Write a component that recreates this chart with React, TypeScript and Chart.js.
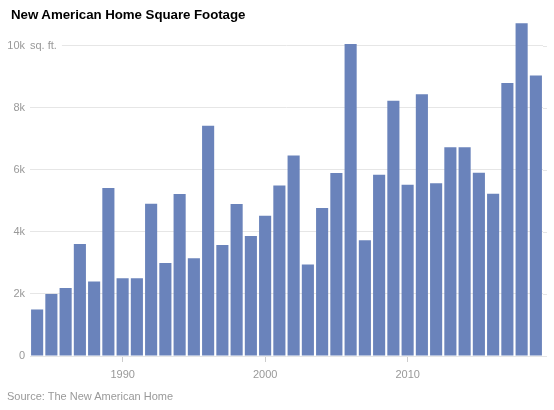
import React, { useEffect, useRef } from 'react';
import { Chart, registerables } from 'chart.js';

Chart.register(...registerables);

const years: string[] = [
    '1984', '1985', '1986', '1987', '1988', '1989', '1990', '1991', '1992', '1993',
    '1994', '1995', '1996', '1997', '1998', '1999', '2000', '2001', '2002', '2003',
    '2004', '2005', '2006', '2007', '2008', '2009', '2010', '2011', '2012', '2013',
    '2014', '2015', '2016', '2017', '2018', '2019',
];

const squareFeet: number[] = [
    1500, 2000, 2190, 3610, 2400, 5420, 2510, 2510, 4910, 3000,
    5220, 3150, 7420, 3580, 4900, 3870, 4520, 5500, 6460, 2950,
    4770, 5900, 10060, 3730, 5840, 8230, 5520, 8440, 5570, 6730,
    6730, 5910, 5230, 8800, 10730, 9040,
];

const yTickValues: number[] = [0, 2000, 4000, 6000, 8000, 10000];
const yTickLabels: string[] = ['0', '2k', '4k', '6k', '8k', '10k'];
const yUnit = 'sq. ft.';

const BAR = '#6a83bb';
const GREY = '#999999';
const GRID = '#e6e6e6';
const FONT = '"Liberation Sans", Arial, sans-serif';

// writes the unit after the top tick label, hiding the grid line under it,
// and lets the grid lines run a few pixels past the last bar
const unitLabel = {
    id: 'unitLabel',
    beforeDatasetsDraw(chart: Chart) {
        const { ctx, chartArea } = chart;
        const y = chart.scales.y;
        ctx.save();
        ctx.strokeStyle = GRID;
        ctx.lineWidth = 1;
        yTickValues.forEach((v) => {
            const py = Math.round(y.getPixelForValue(v)) + 0.5;
            ctx.beginPath();
            ctx.moveTo(chartArea.right, py);
            ctx.lineTo(chartArea.right + 4, py);
            ctx.stroke();
        });
        ctx.restore();
    },
    afterDraw(chart: Chart) {
        const y = chart.scales.y;
        const py = y.getPixelForValue(yTickValues[yTickValues.length - 1]);
        const ctx = chart.ctx;
        ctx.save();
        ctx.font = '11px ' + FONT;
        const w = ctx.measureText(yUnit).width;
        ctx.fillStyle = '#ffffff';
        ctx.fillRect(chart.chartArea.left - 1, py - 3, w + 6, 6);
        ctx.fillStyle = GREY;
        ctx.textAlign = 'left';
        ctx.textBaseline = 'middle';
        ctx.fillText(yUnit, chart.chartArea.left, py);
        ctx.restore();
    },
};

const App: React.FC = () => {
    const canvasRef = useRef<HTMLCanvasElement | null>(null);
    const chartRef = useRef<Chart | null>(null);

    useEffect(() => {
        document.body.style.margin = '0';
        const canvas = canvasRef.current;
        if (!canvas) return;
        const existing = Chart.getChart(canvas);
        if (existing) existing.destroy();

        chartRef.current = new Chart(canvas, {
            type: 'bar',
            data: {
                labels: years,
                datasets: [
                    {
                        data: squareFeet,
                        backgroundColor: BAR,
                        borderWidth: 0,
                        barPercentage: 0.85,
                        categoryPercentage: 1,
                    },
                ],
            },
            options: {
                animation: false,
                responsive: false,
                maintainAspectRatio: false,
                layout: { padding: { top: 21, right: 11, bottom: 24, left: 0 } },
                plugins: {
                    legend: { display: false },
                    tooltip: { enabled: false },
                },
                scales: {
                    x: {
                        offset: true,
                        border: { display: false },
                        grid: {
                            offset: false,
                            drawOnChartArea: false,
                            drawTicks: true,
                            tickLength: 6,
                            color: (ctx: any) => (Number(years[ctx.index]) % 10 === 0 ? '#cccccc' : 'rgba(0,0,0,0)'),
                        },
                        ticks: {
                            autoSkip: false,
                            maxRotation: 0,
                            padding: 6,
                            color: GREY,
                            font: { family: FONT, size: 11 },
                            callback: (_v: any, i: number) => (Number(years[i]) % 10 === 0 ? years[i] : ''),
                        },
                        afterFit: (s: any) => { s.height = 30; },
                    },
                    y: {
                        min: 0,
                        max: 10800,
                        border: { display: false },
                        grid: { color: GRID, drawTicks: false, lineWidth: 1 },
                        afterBuildTicks: (s: any) => { s.ticks = yTickValues.map((v) => ({ value: v })); },
                        ticks: {
                            padding: 5,
                            color: GREY,
                            font: { family: FONT, size: 11 },
                            callback: (v: any) => yTickLabels[yTickValues.indexOf(Number(v))] ?? '',
                        },
                        afterFit: (s: any) => { s.width = 30; },
                    },
                },
            },
            plugins: [unitLabel],
        });

        return () => {
            if (chartRef.current) {
                chartRef.current.destroy();
                chartRef.current = null;
            }
        };
    }, []);

    return (
        <div style={{ position: 'relative', width: 554, height: 410, background: '#fff' }}>
            <div
                style={{
                    position: 'absolute', left: 11, top: 7,
                    font: 'bold 13.3px ' + FONT, color: '#000000', letterSpacing: -0.05,
                }}
            >
                New American Home Square Footage
            </div>
            <canvas ref={canvasRef} width={554} height={410} style={{ display: 'block' }} />
            <div
                style={{
                    position: 'absolute', left: 7, top: 390,
                    font: '11px ' + FONT, color: GREY,
                }}
            >
                Source: The New American Home
            </div>
        </div>
    );
};

export default App;
